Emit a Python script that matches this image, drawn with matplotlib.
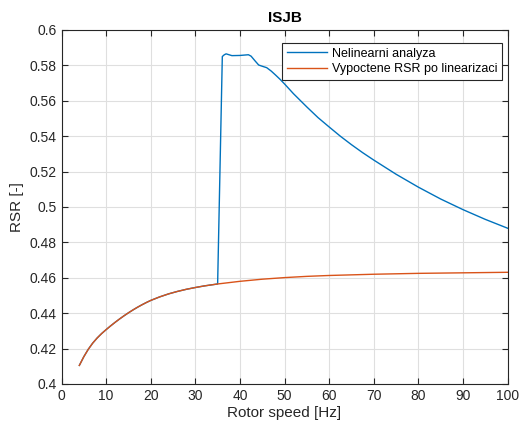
import matplotlib.pyplot as plt

plt.rcParams['font.family'] = ['Liberation Sans', 'DejaVu Sans']

# linearised RSR (orange)
x_lin = [4, 5, 6, 7, 8, 9, 10, 11, 12, 13, 14, 15, 16, 17, 18, 19, 20, 22, 24, 26, 28, 30, 32, 35,
         40, 45, 50, 55, 60, 70, 80, 90, 100]
y_lin = [0.4105, 0.4154, 0.4196, 0.4231, 0.4260, 0.4285, 0.4307, 0.4328, 0.4348, 0.4367, 0.4385,
         0.4402, 0.4418, 0.4433, 0.4447, 0.4460, 0.4472, 0.4492, 0.4509, 0.4523, 0.4535, 0.4545,
         0.4554, 0.4565, 0.4580, 0.4592, 0.4601, 0.4608, 0.4613, 0.4620, 0.4625, 0.4628, 0.4631]

# nonlinear analysis (blue) after the jump
x_nl_tail = [36.05, 36.5, 36.9, 38.2, 40, 41.9, 42.5, 43.4, 44.2, 45, 46, 47, 48, 49, 50, 52,
             55, 57.5, 60, 62.5, 65, 67.5, 70, 75, 80, 85, 90, 95, 100]
y_nl_tail = [0.5850, 0.5860, 0.5865, 0.5855, 0.5856, 0.5860, 0.5852, 0.5825, 0.5802,
             0.5795, 0.5787, 0.5768, 0.5745, 0.5721, 0.5695, 0.5640, 0.5565, 0.5505, 0.5452,
             0.5400, 0.5352, 0.5307, 0.5265, 0.5185, 0.5112, 0.5045, 0.4985, 0.4930, 0.4880]

x_nl = [x for x in x_lin if x <= 35] + x_nl_tail
y_nl = [y for x, y in zip(x_lin, y_lin) if x <= 35] + y_nl_tail

fig = plt.figure(figsize=(5.19, 4.25), dpi=100)
ax = fig.add_axes([0.1185, 0.0965, 0.8595, 0.833])

ax.plot(x_nl, y_nl, color='#0072BD', lw=1.0, label='Nelinearni analyza')
ax.plot(x_lin, y_lin, color='#D95319', lw=1.0, label='Vypoctene RSR po linearizaci')

ax.set_xlim(0, 100)
ax.set_ylim(0.4, 0.6)
ax.set_xticks(range(0, 101, 10))
ax.set_yticks([0.4 + 0.02 * i for i in range(11)])
ax.set_yticklabels(['0.4', '0.42', '0.44', '0.46', '0.48', '0.5', '0.52', '0.54', '0.56', '0.58', '0.6'])
ax.grid(True, color='#dfdfdf', lw=0.8)
ax.set_axisbelow(True)
ax.tick_params(direction='in', top=True, right=True, labelsize=10, colors='#262626', length=4)
for s in ax.spines.values():
    s.set_color('#262626')
    s.set_linewidth(0.8)

ax.set_xlabel('Rotor speed [Hz]', fontsize=11, color='#262626', labelpad=2)
ax.set_ylabel('RSR [-]', fontsize=11, color='#262626', labelpad=4)
ax.set_title('ISJB', fontsize=11, fontweight='bold', pad=6)

leg = ax.legend(loc='upper right', bbox_to_anchor=(0.9877, 0.964), borderaxespad=0,
                fontsize=9, fancybox=False, framealpha=1, edgecolor='#262626',
                handlelength=3.2, borderpad=0.4, labelspacing=0.3, handletextpad=0.35)
leg.get_frame().set_linewidth(0.8)

fig.savefig('out.png', dpi=100)
